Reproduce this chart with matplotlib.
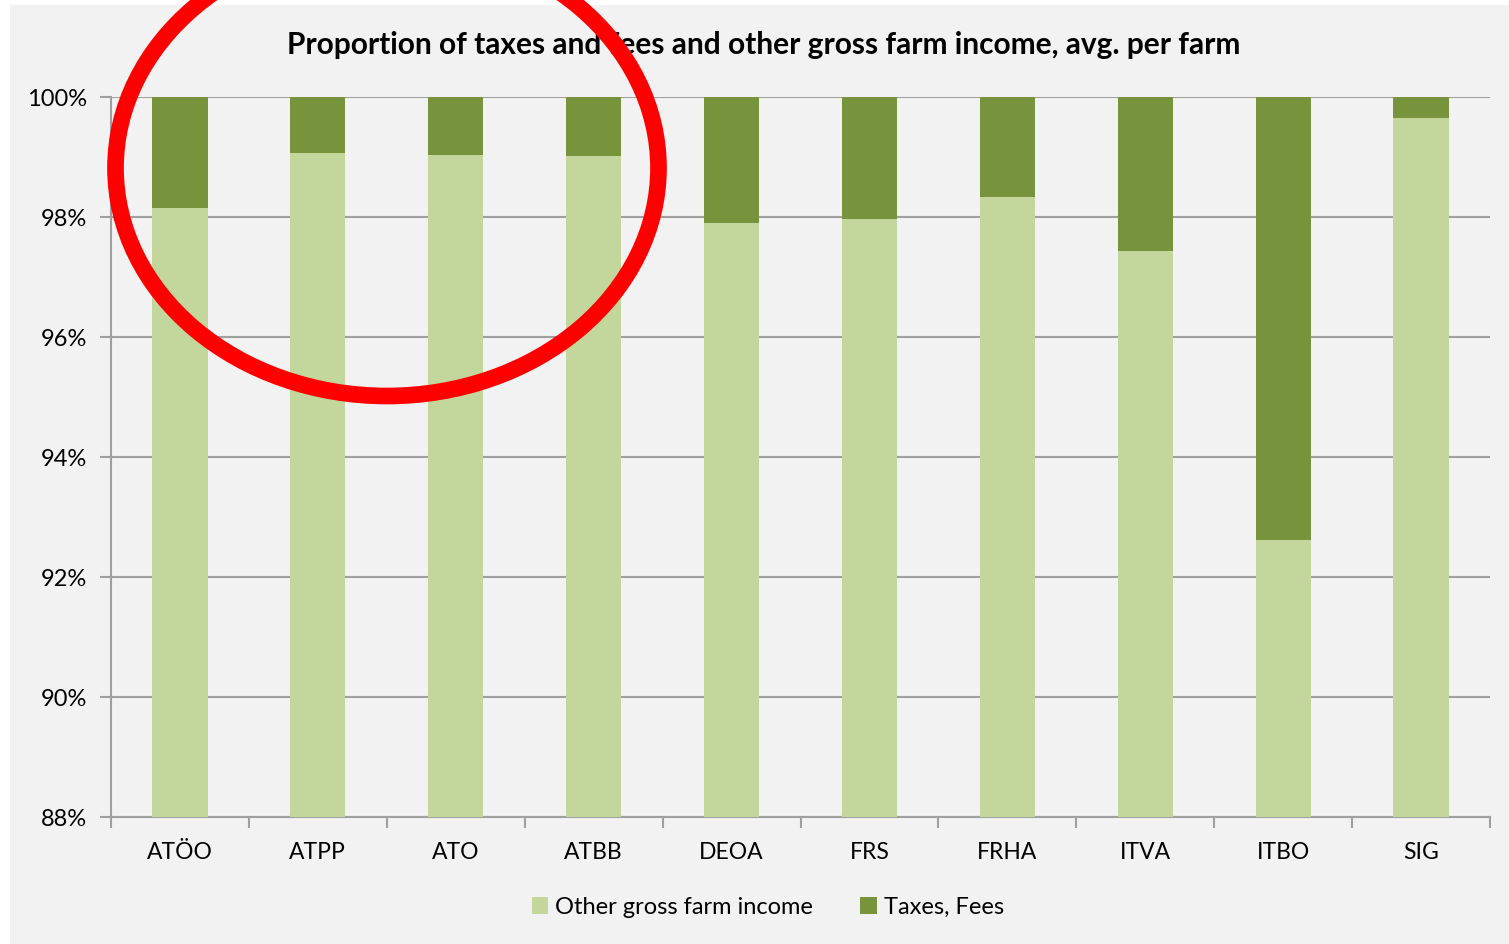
import numpy as np
import matplotlib
matplotlib.use("Agg")
import matplotlib.pyplot as plt
from matplotlib.patches import Rectangle, Ellipse

# dados
regions = ["ATÖO", "ATPP", "ATO", "ATBB", "DEOA", "FRS", "FRHA", "ITVA", "ITBO", "SIG"]
other_income = [98.15, 99.07, 99.03, 99.02, 97.90, 97.97, 98.33, 97.43, 92.62, 99.65]
taxes_fees = [100 - v for v in other_income]
y_ticks = [88, 90, 92, 94, 96, 98, 100]

light_green = "#c3d69b"
dark_green = "#77933c"
grid_gray = "#a0a0a0"

plt.rcParams['font.family'] = ['Lato', 'DejaVu Sans']

fig = plt.figure(figsize=(15.09, 9.44), dpi=100)
fig.patch.set_facecolor("white")
fig.patches.append(Rectangle((10 / 1509, 0), 1, (944 - 5) / 944, transform=fig.transFigure,
                             facecolor="#f2f2f2", edgecolor="none", zorder=-10))

ax = fig.add_axes([111 / 1509, 127 / 944, (1490 - 111) / 1509, (817 - 97) / 944])
ax.set_facecolor("none")

x = np.arange(len(regions))
ax.bar(x, other_income, width=0.4, color=light_green, label="Other gross farm income", zorder=3)
ax.bar(x, taxes_fees, width=0.4, bottom=other_income, color=dark_green, label="Taxes, Fees", zorder=3)

ax.set_ylim(88, 100)
ax.set_xlim(-0.5, len(regions) - 0.5)
ax.set_yticks(y_ticks)
ax.set_yticklabels([f"{t}%" for t in y_ticks], fontsize=17)
ax.yaxis.grid(True, color=grid_gray, linewidth=1.5, zorder=0)

ax.set_xticks(x)
ax.set_xticklabels(regions, fontsize=16.5)
ax.tick_params(axis='x', length=0, pad=18)
ax.set_xticks(np.arange(-0.5, len(regions)), minor=True)
ax.tick_params(axis='x', which='minor', length=8, color=grid_gray, width=1.5)
ax.tick_params(axis='y', length=8, color=grid_gray, width=1.5, pad=9)

for side in ["top", "right"]:
    ax.spines[side].set_visible(False)
for side in ["left", "bottom"]:
    ax.spines[side].set_color(grid_gray)
    ax.spines[side].set_linewidth(1.5)

fig.text(764 / 1509, 1 - 45 / 944, "Proportion of taxes and fees and other gross farm income, avg. per farm",
         ha="center", va="center", fontsize=21.5, fontweight="bold")

ax.legend(loc="center", bbox_to_anchor=(768 / 1509, 1 - 907 / 944), bbox_transform=fig.transFigure,
          ncol=2, frameon=False, fontsize=17, handlelength=0.7, handleheight=0.7,
          handletextpad=0.3, columnspacing=2.0)

# elipse vermelha de destaque
fig.patches.append(Ellipse((387 / 1509, 1 - 168 / 944), 543 / 1509, 456 / 944, transform=fig.transFigure,
                           facecolor="none", edgecolor="#ff0000", linewidth=12, zorder=10))

fig.savefig("out.png", dpi=100)
